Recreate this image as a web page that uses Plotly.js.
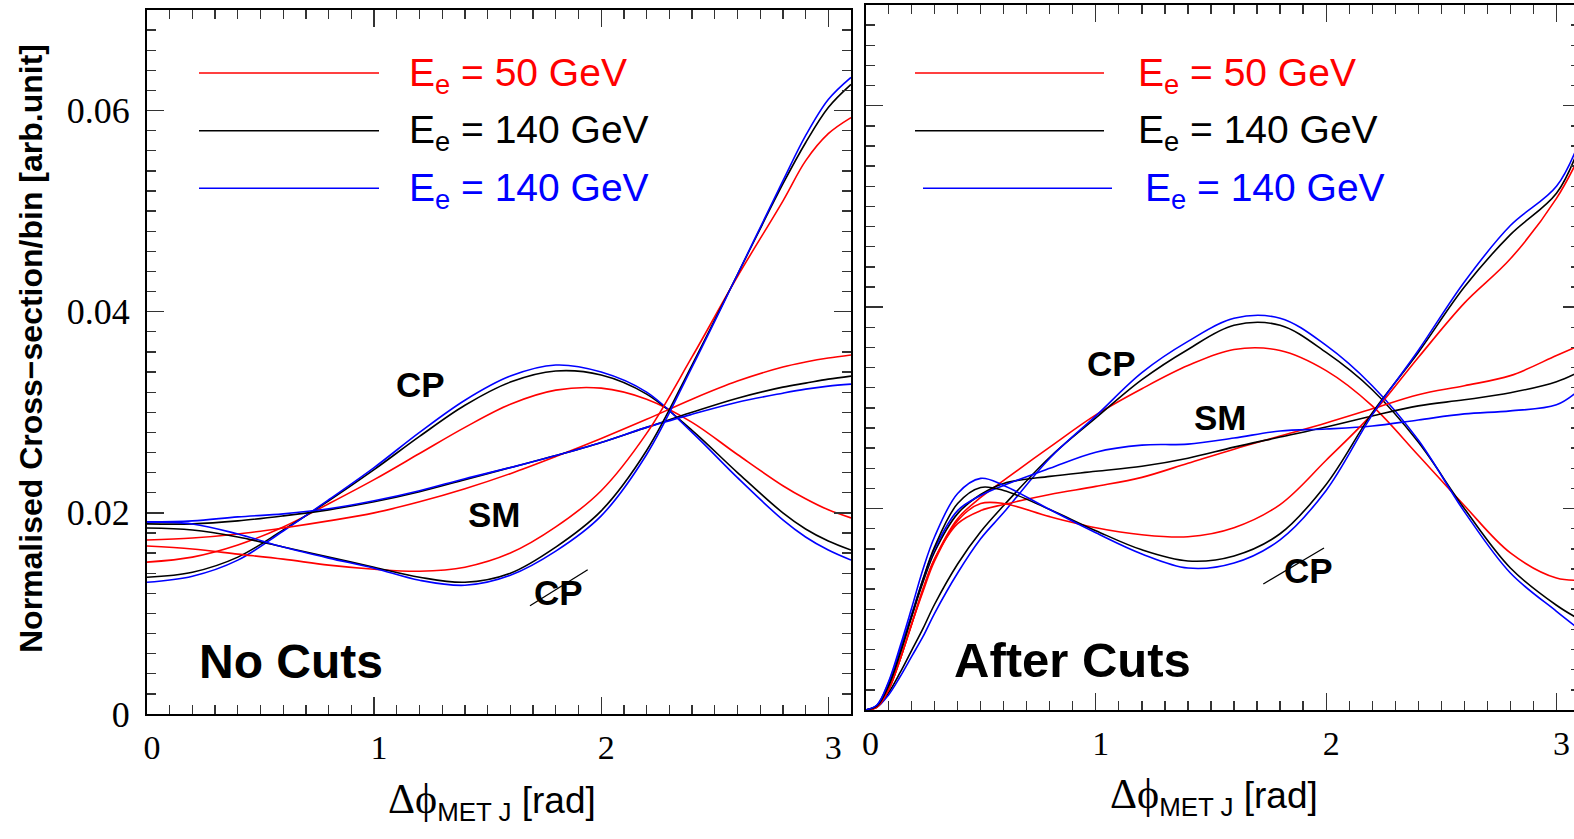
<!DOCTYPE html>
<html><head><meta charset="utf-8">
<script src="https://cdn.plot.ly/plotly-3.0.1.min.js"></script>
<style>html,body{margin:0;padding:0;overflow:hidden;background:#fff}</style>
</head><body>
<div id="chart" style="width:1580px;height:839px"></div>
<script>
// ---------- data ----------
const xNoCuts = [0,0.2,0.4,0.6,0.8,1.0,1.2,1.4,1.6,1.8,2.0,2.2,2.4,2.6,2.8,2.9,3.0,3.1];
const cpRedNoCuts   = [.0151,.0156,.0168,.0186,.0209,.0233,.0259,.0285,.0308,.0322,.0324,.0313,.0290,.0258,.0227,.0214,.0203,.0195];
const cpBlackNoCuts = [.0136,.0141,.0156,.0183,.0212,.0243,.0276,.0307,.0330,.0341,.0337,.0318,.0282,.0240,.0200,.0184,.0172,.0163];
const cpBlueNoCuts  = [.0131,.0137,.0153,.0182,.0213,.0245,.0280,.0312,.0336,.0347,.0340,.0320,.0280,.0235,.0193,.0176,.0163,.0153];
const smRedNoCuts   = [.0173,.0175,.0179,.0185,.0192,.0200,.0211,.0224,.0239,.0256,.0274,.0293,.0313,.0331,.0345,.0350,.0354,.0357];
const smBlackNoCuts = [.0189,.0189,.0192,.0197,.0203,.0211,.0221,.0233,.0245,.0257,.0270,.0285,.0300,.0314,.0325,.0329,.0333,.0336];
const smBlueNoCuts  = [.0191,.0192,.0196,.0199,.0204,.0212,.0222,.0234,.0245,.0257,.0270,.0285,.0298,.0310,.0319,.0323,.0326,.0328];
const cpoRedNoCuts  = [.0167,.0164,.0159,.0154,.0148,.0144,.0142,.0146,.0160,.0186,.0222,.0279,.0355,.0435,.0510,.0550,.0577,.0593];
const cpoBlackNoCuts= [.0185,.0183,.0176,.0166,.0156,.0146,.0136,.0131,.0140,.0166,.0202,.0262,.0347,.0437,.0527,.0568,.0603,.0626];
const cpoBlueNoCuts = [.0191,.0189,.0179,.0166,.0155,.0145,.0133,.0128,.0138,.0162,.0197,.0258,.0345,.0437,.0530,.0575,.0611,.0633];

const xAfterCuts = [0,0.05,0.1,0.15,0.2,0.25,0.3,0.4,0.5,0.6,0.8,1.0,1.2,1.4,1.6,1.8,2.0,2.2,2.4,2.6,2.8,3.0,3.1];
const cpRedAfter   = [0,.0003,.0020,.0050,.0085,.0120,.0150,.0190,.0211,.0228,.0261,.0293,.0319,.0342,.0358,.0357,.0337,.0302,.0253,.0203,.0156,.0131,.0129];
const cpBlackAfter = [0,.0003,.0017,.0037,.0059,.0081,.0105,.0145,.0177,.0203,.0251,.0290,.0328,.0358,.0382,.0382,.0355,.0318,.0266,.0200,.0141,.0104,.0090];
const cpBlueAfter  = [0,.0003,.0015,.0033,.0053,.0073,.0096,.0136,.0170,.0196,.0250,.0292,.0335,.0366,.0389,.0389,.0362,.0322,.0268,.0197,.0136,.0098,.0080];
const smRedAfter   = [0,.0003,.0020,.0050,.0085,.0120,.0150,.0185,.0198,.0204,.0214,.0222,.0231,.0245,.0259,.0272,.0285,.0299,.0313,.0322,.0332,.0352,.0362];
const smBlackAfter = [0,.0004,.0024,.0056,.0092,.0127,.0157,.0195,.0214,.0225,.0232,.0237,.0242,.0250,.0261,.0271,.0281,.0292,.0302,.0308,.0315,.0326,.0336];
const smBlueAfter  = [0,.0005,.0027,.0060,.0095,.0130,.0160,.0198,.0213,.0223,.0240,.0256,.0263,.0264,.0270,.0277,.0279,.0282,.0288,.0294,.0297,.0303,.0318];
const cpoRedAfter  = [0,.0003,.0020,.0050,.0085,.0118,.0148,.0188,.0205,.0205,.0192,.0181,.0174,.0172,.0181,.0204,.0248,.0294,.0350,.0404,.0448,.0508,.0550];
const cpoBlackAfter= [0,.0004,.0024,.0056,.0093,.0130,.0162,.0205,.0221,.0218,.0199,.0178,.0159,.0148,.0153,.0175,.0224,.0295,.0355,.0420,.0472,.0513,.0560];
const cpoBlueAfter = [0,.0005,.0028,.0063,.0101,.0140,.0172,.0215,.0230,.0223,.0199,.0176,.0155,.0141,.0146,.0169,.0218,.0293,.0357,.0425,.0481,.0520,.0565];

const xTickVals = [0,1,2,3];
const xTickText = ['0','1','2','3'];
const xHalfTicks = [0.5,1.5,2.5];
const yTickVals = [0,0.02,0.04,0.06];
const yTickText = ['0','0.02','0.04','0.06'];
const yOddTicks = [0.01,0.03,0.05,0.07];
const legendLabels = ['E<sub>e</sub> = 50 GeV','E<sub>e</sub> = 140 GeV','E<sub>e</sub> = 140 GeV'];

// ---------- styling ----------
const RED='#ff0000', BLACK='#000000', BLUE='#0000ff';
const W=1580, H=839;
const px = v => v/W;
const py = v => (H - v)/H;

const traces = [];
function add(x, y, color, panel){
  traces.push({x:x, y:y, type:'scatter', mode:'lines',
    line:{color:color, width:1.6, shape:'spline', smoothing:1},
    xaxis: panel===1?'x':'x2', yaxis: panel===1?'y':'y2', hoverinfo:'skip'});
}
add(xNoCuts, cpRedNoCuts, RED,1); add(xNoCuts, cpBlackNoCuts, BLACK,1); add(xNoCuts, cpBlueNoCuts, BLUE,1);
add(xNoCuts, smRedNoCuts, RED,1); add(xNoCuts, smBlackNoCuts, BLACK,1); add(xNoCuts, smBlueNoCuts, BLUE,1);
add(xNoCuts, cpoRedNoCuts, RED,1); add(xNoCuts, cpoBlackNoCuts, BLACK,1); add(xNoCuts, cpoBlueNoCuts, BLUE,1);
add(xAfterCuts, cpRedAfter, RED,2); add(xAfterCuts, cpBlackAfter, BLACK,2); add(xAfterCuts, cpBlueAfter, BLUE,2);
add(xAfterCuts, smRedAfter, RED,2); add(xAfterCuts, smBlackAfter, BLACK,2); add(xAfterCuts, smBlueAfter, BLUE,2);
add(xAfterCuts, cpoRedAfter, RED,2); add(xAfterCuts, cpoBlackAfter, BLACK,2); add(xAfterCuts, cpoBlueAfter, BLUE,2);

const TK = {ticks:'inside', tickwidth:1.3, tickcolor:'#333', showgrid:false, zeroline:false, fixedrange:true};
function xAxis(dom, anchor){
  return Object.assign({domain:dom, anchor:anchor, range:[0,3.1], showline:true, linewidth:2, linecolor:'#000',
    mirror:'ticks', ticklen:17, tickmode:'array', tickvals:xTickVals, ticktext:xTickText,
    tickfont:{family:'Liberation Serif', size:34, color:'#000'},
    ticklabelstandoff:2, ticklabelshift:5,
    minor:{dtick:0.1, tick0:0, ticks:'inside', ticklen:9, tickwidth:1.3, tickcolor:'#333'}}, TK);
}
function yAxis(dom, anchor, labels){
  return Object.assign({domain:dom, anchor:anchor, range:[0,0.07], showline:true, linewidth:2, linecolor:'#000',
    mirror:'ticks', ticklen:17, tickmode:'array', tickvals:yTickVals, ticktext:yTickText, showticklabels:labels,
    tickfont:{family:'Liberation Serif', size:36, color:'#000'},
    ticklabelstandoff:8,
    minor:{dtick:0.002, tick0:0, ticks:'inside', ticklen:9, tickwidth:1.3, tickcolor:'#333'}}, TK);
}
function overlayX(over, anchor){
  return Object.assign({overlaying:over, anchor:anchor, range:[0,3.1], showline:false, mirror:'ticks',
    ticklen:17, tickmode:'array', tickvals:xHalfTicks, showticklabels:false}, TK);
}
function overlayY(over, anchor){
  return Object.assign({overlaying:over, anchor:anchor, range:[0,0.07], showline:false, mirror:'ticks',
    ticklen:17, tickmode:'array', tickvals:yOddTicks, showticklabels:false}, TK);
}

const shapes = [];
const annotations = [];
const legColors = [RED, BLACK, BLUE];
const legRowsY = [73, 130.7, 188.3];
const legL = [[199,379,407],[199,379,407],[199,379,407]];
const legR = [[915,1104,1136],[915,1104,1136],[923,1112,1143]];
[legL, legR].forEach(leg => {
  leg.forEach((r,i) => {
    shapes.push({type:'line', xref:'paper', yref:'paper', x0:px(r[0]), x1:px(r[1]), y0:py(legRowsY[i]), y1:py(legRowsY[i]),
      line:{color:legColors[i], width:1.6}});
    annotations.push({xref:'paper', yref:'paper', x:px(r[2]), y:py(legRowsY[i]+2), xanchor:'left', yanchor:'middle',
      text:legendLabels[i], showarrow:false, font:{family:'Liberation Sans', size:39, color:legColors[i]}});
  });
});

function label(text, x, y, size){
  annotations.push({xref:'paper', yref:'paper', x:px(x), y:py(y), xanchor:'center', yanchor:'middle',
    text:'<b>'+text+'</b>', showarrow:false, font:{family:'Liberation Sans', size:size, color:'#000'}});
}
label('CP', 421, 384, 35); label('SM', 494, 514, 35); label('CP', 558, 592, 35);
label('No Cuts', 291, 661, 48);
label('CP', 1111, 363, 35); label('SM', 1220, 418, 35); label('CP', 1308, 570, 35);
label('After Cuts', 1072, 660, 49);
shapes.push({type:'line', xref:'paper', yref:'paper', x0:px(530), y0:py(605.7), x1:px(587.7), y1:py(569.7), line:{color:'#000', width:1.3}});
shapes.push({type:'line', xref:'paper', yref:'paper', x0:px(1263.3), y0:py(584), x1:px(1324), y1:py(548), line:{color:'#000', width:1.3}});

const xTitle = '<span style="font-family:Liberation Serif, DejaVu Serif;font-size:42px">Δϕ</span><sub>MET J</sub> [rad]';
annotations.push({xref:'paper', yref:'paper', x:px(386), y:py(801), xanchor:'left', yanchor:'middle', text:xTitle,
  showarrow:false, font:{family:'Liberation Sans', size:37, color:'#000'}});
annotations.push({xref:'paper', yref:'paper', x:px(1108), y:py(796), xanchor:'left', yanchor:'middle', text:xTitle,
  showarrow:false, font:{family:'Liberation Sans', size:37, color:'#000'}});
annotations.push({xref:'paper', yref:'paper', x:px(31), y:py(349), xanchor:'center', yanchor:'middle', textangle:-90,
  text:'<b>Normalised Cross−section/bin [arb.unit]</b>', showarrow:false,
  font:{family:'Liberation Sans', size:32, color:'#000'}});

const layout = {
  width:W, height:H, margin:{l:0,r:0,t:0,b:0}, showlegend:false,
  paper_bgcolor:'#fff', plot_bgcolor:'rgba(0,0,0,0)',
  xaxis: xAxis([px(147), px(851)], 'y'),
  yaxis: yAxis([py(714), py(10)], 'x', true),
  xaxis2: xAxis([px(865.5), px(1579.5)], 'y2'),
  yaxis2: yAxis([py(710), py(5)], 'x2', false),
  xaxis3: overlayX('x', 'y'),
  yaxis3: overlayY('y', 'x'),
  xaxis4: overlayX('x2', 'y2'),
  yaxis4: overlayY('y2', 'x2'),
  shapes: shapes, annotations: annotations
};
Plotly.newPlot('chart', traces, layout, {staticPlot:true, displayModeBar:false});
</script>
</body></html>
